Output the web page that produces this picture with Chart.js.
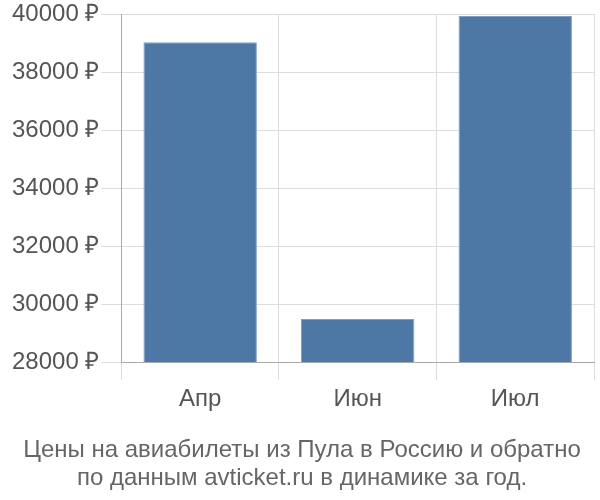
<!DOCTYPE html>
<html>
<head>
<meta charset="utf-8">
<script src="https://cdn.jsdelivr.net/npm/chart.js@4"></script>
<style>
  body { margin: 0; background: #fff; }
  #wrap { width: 600px; height: 500px; }
</style>
</head>
<body>
<div id="wrap"><canvas id="priceChart" width="600" height="500"></canvas></div>
<script>
const months = ['Апр', 'Июн', 'Июл'];
const prices = [39030, 29480, 39930];
const yTicks = [28000, 30000, 32000, 34000, 36000, 38000, 40000];
const titleLines = ['Цены на авиабилеты из Пула в Россию и обратно', 'по данным avticket.ru в динамике за год.'];

const fontFamily = '"Liberation Sans", Arial, sans-serif';

const ctx = document.getElementById('priceChart').getContext('2d');
const chart = new Chart(ctx, {
  type: 'bar',
  data: {
    labels: months,
    datasets: [{
      data: prices,
      backgroundColor: '#4d78a6',
      borderColor: '#7f9fc3',
      borderWidth: { top: 1, left: 1, right: 1, bottom: 0 },
      barPercentage: 0.72,
      categoryPercentage: 1
    }]
  },
  options: {
    responsive: false,
    animation: false,
    layout: { padding: { top: 2, right: 6, left: 10, bottom: 0 } },
    plugins: {
      legend: { display: false },
      tooltip: { enabled: false },
      title: {
        display: true,
        position: 'bottom',
        text: titleLines,
        color: '#666',
        font: { family: fontFamily, size: 24, weight: 'normal', lineHeight: 1.17 },
        padding: { top: 17, bottom: 8 }
      }
    },
    scales: {
      x: {
        grid: { color: '#dddddd', lineWidth: 1, tickLength: 18, offset: true },
        border: { color: '#aaaaaa' },
        ticks: {
          color: '#555',
          font: { family: fontFamily, size: 24 },
          padding: 5
        }
      },
      y: {
        min: 28000,
        max: 40000,
        afterBuildTicks: axis => { axis.ticks = yTicks.map(v => ({ value: v })); },
        grid: { color: '#dddddd', lineWidth: 1, tickLength: 20 },
        border: { color: '#aaaaaa' },
        ticks: {
          color: '#555',
          padding: 2,
          font: { family: fontFamily, size: 24, lineHeight: 1 },
          callback: v => v + ' ₽'
        }
      }
    }
  }
});
</script>
</body>
</html>
